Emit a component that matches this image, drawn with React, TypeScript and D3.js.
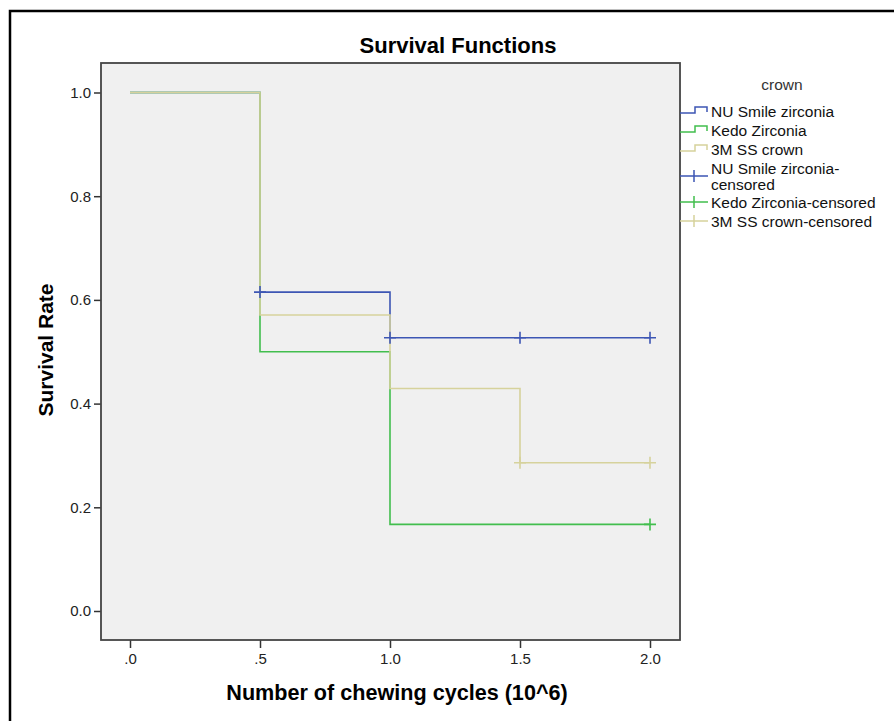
import { useRef, useEffect } from 'react'
import * as d3 from 'd3'

// Kaplan-Meier steps per crown type (time in 10^6 cycles, survival rate)
const nuTimes = [0, 0.5, 1.0, 2.0]
const nuSurv = [1.0, 0.615, 0.527, 0.527]
const kedoTimes = [0, 0.5, 1.0, 2.0]
const kedoSurv = [1.0, 0.5, 0.167, 0.167]
const ssTimes = [0, 0.5, 1.0, 1.5, 2.0]
const ssSurv = [1.0, 0.571, 0.429, 0.286, 0.286]

// censored observations
const nuCensT = [0.5, 1.0, 1.5, 2.0]
const nuCensS = [0.615, 0.527, 0.527, 0.527]
const kedoCensT = [2.0]
const kedoCensS = [0.167]
const ssCensT = [1.5, 2.0]
const ssCensS = [0.286, 0.286]

const seriesNames = ['NU Smile zirconia', 'Kedo Zirconia', '3M SS crown']
const seriesColors = ['#3d56b4', '#42be4e', '#d6d29c']

const xTicks = [0, 0.5, 1.0, 1.5, 2.0]
const xTickLabels = ['.0', '.5', '1.0', '1.5', '2.0']
const yTicks = [0, 0.2, 0.4, 0.6, 0.8, 1.0]

const FONT = "'Liberation Sans', Arial, sans-serif"

export default function App() {
  const svgRef = useRef<SVGSVGElement>(null)

  useEffect(() => {
    const svg = d3.select(svgRef.current)
    svg.selectAll('*').remove()

    const plot = { left: 101, top: 63, right: 680, bottom: 640 }

    // outer frame (runs off the right/bottom edge)
    svg.append('rect')
      .attr('x', 10).attr('y', 11)
      .attr('width', 900).attr('height', 730)
      .attr('fill', '#fff').attr('stroke', '#000').attr('stroke-width', 2.5)

    svg.append('rect')
      .attr('x', plot.left).attr('y', plot.top)
      .attr('width', plot.right - plot.left).attr('height', plot.bottom - plot.top)
      .attr('fill', '#f0f0f0')

    const x = d3.scaleLinear().domain([0, 2]).range([130, 650])
    const y = d3.scaleLinear().domain([0, 1]).range([611, 92.5])

    // axes
    const yAxis = svg.append('g')
      .attr('transform', `translate(${plot.left},0)`)
      .call(d3.axisLeft(y).tickValues(yTicks).tickFormat(d3.format('.1f')).tickSize(7).tickPadding(3))
    const xAxis = svg.append('g')
      .attr('transform', `translate(0,${plot.bottom})`)
      .call(d3.axisBottom(x).tickValues(xTicks).tickFormat((_d, i) => xTickLabels[i]).tickSize(8).tickPadding(5))
    ;[yAxis, xAxis].forEach((ax) => {
      ax.select('.domain').remove()
      ax.selectAll('line').attr('stroke', '#333').attr('stroke-width', 1.5)
      ax.selectAll('text').attr('font-family', FONT).attr('font-size', '15px').attr('fill', '#222')
    })

    // survival step lines
    const steps = [
      nuTimes.map((t, i) => [t, nuSurv[i]]),
      kedoTimes.map((t, i) => [t, kedoSurv[i]]),
      ssTimes.map((t, i) => [t, ssSurv[i]]),
    ]
    const cens = [
      nuCensT.map((t, i) => [t, nuCensS[i]]),
      kedoCensT.map((t, i) => [t, kedoCensS[i]]),
      ssCensT.map((t, i) => [t, ssCensS[i]]),
    ]
    const line = d3.line<number[]>()
      .x((d) => x(d[0]))
      .y((d) => y(d[1]))
      .curve(d3.curveStepAfter)

    steps.forEach((pts, k) => {
      svg.append('path')
        .attr('d', line(pts))
        .attr('fill', 'none')
        .attr('stroke', seriesColors[k])
        .attr('stroke-width', 1.6)
    })
    cens.forEach((pts, k) => {
      pts.forEach((p) => {
        const cx = x(p[0])
        const cy = y(p[1])
        svg.append('path')
          .attr('d', `M${cx - 6},${cy}H${cx + 6}M${cx},${cy - 6}V${cy + 6}`)
          .attr('stroke', seriesColors[k])
          .attr('stroke-width', 1.6)
      })
    })

    // plot frame
    svg.append('rect')
      .attr('x', plot.left).attr('y', plot.top)
      .attr('width', plot.right - plot.left).attr('height', plot.bottom - plot.top)
      .attr('fill', 'none').attr('stroke', '#444').attr('stroke-width', 1.8)

    // titles
    svg.append('text')
      .attr('x', 458).attr('y', 53)
      .attr('text-anchor', 'middle')
      .attr('font-family', FONT).attr('font-size', '22px').attr('font-weight', 'bold')
      .text('Survival Functions')
    svg.append('text')
      .attr('x', 397).attr('y', 700)
      .attr('text-anchor', 'middle')
      .attr('font-family', FONT).attr('font-size', '21.6px').attr('font-weight', 'bold')
      .text('Number of chewing cycles (10^6)')
    svg.append('text')
      .attr('transform', 'translate(53,350) rotate(-90)')
      .attr('text-anchor', 'middle')
      .attr('font-family', FONT).attr('font-size', '21px').attr('font-weight', 'bold')
      .text('Survival Rate')

    // legend
    svg.append('text')
      .attr('x', 782).attr('y', 84)
      .attr('text-anchor', 'middle').attr('dominant-baseline', 'central')
      .attr('font-family', FONT).attr('font-size', '15.5px').attr('fill', '#333')
      .text('crown')

    const legendRows = [111, 130, 149]
    seriesNames.forEach((name, k) => {
      const ly = legendRows[k]
      svg.append('path')
        .attr('d', `M${plot.right},${ly + 2}H695V${ly - 4}H707V${ly + 1}`)
        .attr('fill', 'none').attr('stroke', seriesColors[k]).attr('stroke-width', 1.5)
      svg.append('text')
        .attr('x', 711).attr('y', ly)
        .attr('dominant-baseline', 'central')
        .attr('font-family', FONT).attr('font-size', '15.5px').attr('fill', '#111')
        .text(name)
    })
    const censRows = [168, 202, 221]
    const censSymbolY = [176, 202, 221]
    seriesNames.forEach((name, k) => {
      const ly = censRows[k]
      const sy = censSymbolY[k]
      svg.append('path')
        .attr('d', `M${plot.right},${sy}H708M694,${sy - 6}V${sy + 6}`)
        .attr('fill', 'none').attr('stroke', seriesColors[k]).attr('stroke-width', 1.5)
      const t = svg.append('text')
        .attr('x', 711).attr('y', ly)
        .attr('dominant-baseline', 'central')
        .attr('font-family', FONT).attr('font-size', '15.5px').attr('fill', '#111')
      if (k === 0) {
        t.text(name + '-')
        svg.append('text')
          .attr('x', 711).attr('y', ly + 16)
          .attr('dominant-baseline', 'central')
          .attr('font-family', FONT).attr('font-size', '15.5px').attr('fill', '#111')
          .text('censored')
      } else {
        t.text(name + '-censored')
      }
    })
  }, [])

  return (
    <svg
      ref={svgRef}
      width={894}
      height={721}
      style={{ position: 'absolute', left: 0, top: 0, display: 'block' }}
    />
  )
}
